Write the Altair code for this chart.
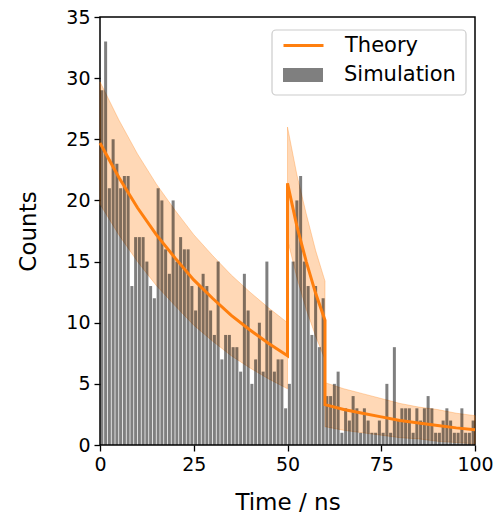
import altair as alt
import pandas as pd

# Histogram (1 ns bins), counts
bin_start = list(range(100))
counts = [29, 33, 21, 25, 23, 21, 22, 22, 13, 17,
          17, 17, 15, 13, 12, 21, 20, 16, 14, 20,
          15, 17, 16, 16, 13, 11, 13, 14, 13, 11,
          9, 15, 7, 9, 9, 8, 8, 6, 14, 11,
          5, 7, 10, 6, 15, 11, 6, 7, 7, 3,
          5, 15, 20, 22, 15, 13, 9, 13, 8, 12,
          4, 4, 5, 6, 1, 3, 2, 4, 3, 1,
          3, 2, 1, 1, 2, 1, 5, 1, 8, 2,
          3, 3, 3, 1, 3, 2, 3, 4, 3, 1,
          1, 2, 3, 2, 1, 1, 3, 1, 1, 2]

# Theory curve and its band
theory_t = [0, 5, 10, 15, 20, 25, 30, 35, 40, 45, 50,
            50, 52.5, 55, 57.5, 60,
            60, 65, 70, 75, 80, 85, 90, 95, 100]
theory_y = [24.7, 21.9, 19.4, 17.2, 15.3, 13.5, 12.0, 10.6, 9.4, 8.3, 7.3,
            21.4, 17.9, 15.0, 12.4, 10.2,
            3.3, 2.9, 2.6, 2.3, 2.0, 1.8, 1.6, 1.4, 1.25]
band_lo = [19.7, 17.2, 15.0, 13.05, 11.4, 9.8, 8.5, 7.3, 6.3, 5.4, 4.6,
           16.8, 13.7, 11.1, 8.9, 7.0,
           1.5, 1.2, 1.0, 0.8, 0.6, 0.5, 0.3, 0.2, 0.1]
band_hi = [29.7, 26.6, 23.8, 21.35, 19.2, 17.2, 15.5, 13.9, 12.5, 11.2, 10.0,
           26.0, 22.1, 18.9, 15.9, 13.4,
           5.1, 4.6, 4.2, 3.8, 3.4, 3.1, 2.9, 2.6, 2.4]
segment = [0] * 11 + [1] * 5 + [2] * 9

FONT = "DejaVu Sans"
ORANGE = "#ff7f0e"
BARCOL = "#000000"

bars_df = pd.DataFrame({"t": bin_start, "count": counts, "series": "Simulation"})
th_df = pd.DataFrame({"t": theory_t, "y": theory_y, "lo": band_lo, "hi": band_hi,
                      "seg": segment, "ord": list(range(len(theory_t))),
                      "series": "Theory"})

xscale = alt.Scale(domain=[0, 100], nice=False, zero=False, padding=0)
yscale = alt.Scale(domain=[0, 35], nice=False, padding=0)
xaxis = alt.Axis(values=[0, 25, 50, 75, 100], title="Time / ns", labelFlush=False)
yaxis = alt.Axis(values=[0, 5, 10, 15, 20, 25, 30, 35], title="Counts", labelFlush=False)

band = alt.Chart(th_df).mark_area(
    fill=ORANGE, fillOpacity=0.3, stroke=ORANGE, strokeOpacity=0.3, strokeWidth=1
).encode(
    x=alt.X("t:Q", scale=xscale, axis=xaxis),
    y=alt.Y("lo:Q", scale=yscale, axis=yaxis),
    y2="hi:Q",
    detail="seg:N",
)

bars = alt.Chart(bars_df).transform_calculate(
    x0="datum.t + 0.1", x1="datum.t + 0.9"
).mark_bar(opacity=0.5).encode(
    x=alt.X("x0:Q", scale=xscale),
    x2="x1:Q",
    y=alt.Y("count:Q", scale=yscale),
    y2=alt.datum(0),
    fill=alt.Fill("series:N", scale=alt.Scale(domain=["Simulation"], range=[BARCOL]),
                  legend=alt.Legend(title=None, orient="none", legendX=192, legendY=47,
                                    symbolType="M-2,-0.7L2,-0.7L2,0.7L-2,0.7Z",
                                    symbolSize=400, symbolOpacity=0.5,
                                    labelFont=FONT, labelFontSize=21, labelColor="black",
                                    labelOffset=30, padding=0)),
)

line = alt.Chart(th_df).mark_line(strokeWidth=3).encode(
    x=alt.X("t:Q", scale=xscale),
    y=alt.Y("y:Q", scale=yscale),
    order="ord:Q",
    stroke=alt.Stroke("series:N", scale=alt.Scale(domain=["Theory"], range=[ORANGE]),
                      legend=alt.Legend(title=None, orient="none", legendX=192, legendY=17,
                                        symbolType="M-2,0L2,0", symbolSize=400,
                                        symbolStrokeWidth=3,
                                        labelFont=FONT, labelFontSize=21, labelColor="black",
                                        labelOffset=30, padding=0)),
)

frame = alt.Chart(pd.DataFrame({"k": [0]})).mark_rect(
    fill="white", fillOpacity=0.8, stroke="#cccccc", strokeWidth=1.2, cornerRadius=4
).encode(
    x=alt.value(172), x2=alt.value(366), y=alt.value(13), y2=alt.value(78)
)

chart = alt.layer(band, bars, line, frame).properties(
    width=375, height=428,
    padding={"left": 100, "top": 17, "right": 29, "bottom": 81},
    autosize=alt.AutoSizeParams(type="none"),
).configure_view(
    stroke="black", strokeWidth=1.5
).configure_axis(
    grid=False, domain=False, tickColor="black", tickSize=6, tickWidth=1.3,
    labelFont=FONT, labelFontSize=19, labelColor="black", labelPadding=4,
    titleFont=FONT, titleFontSize=23, titleColor="black", titleFontWeight="normal",
).configure_axisY(titlePadding=25).configure_axisX(titlePadding=17)

chart.save("out.html", embed_options={"renderer": "svg", "actions": False})
